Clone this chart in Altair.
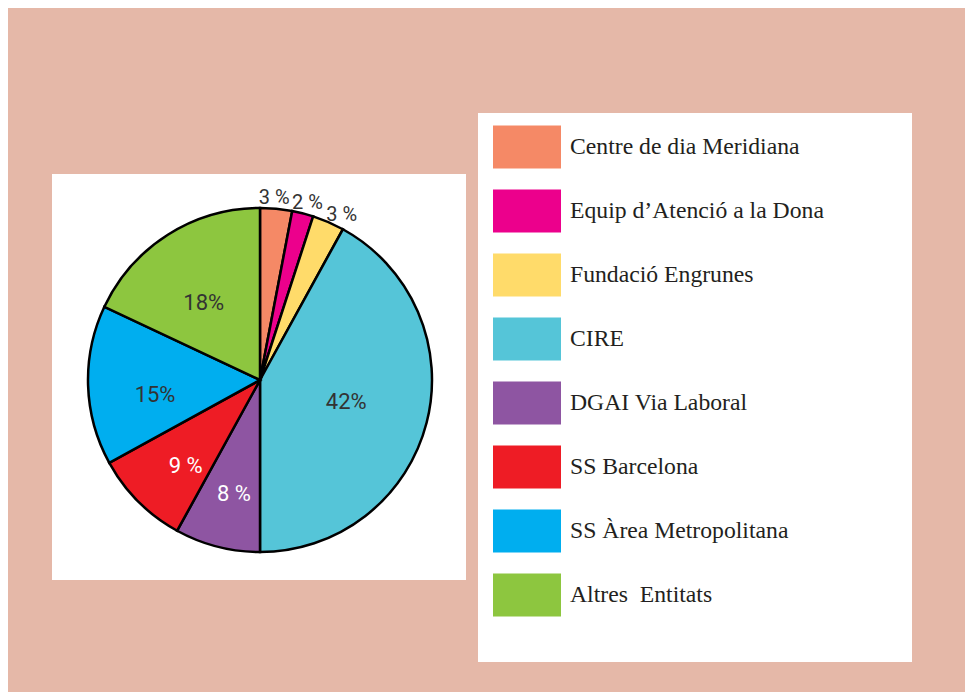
import altair as alt
import pandas as pd

categories = [
    "Centre de dia Meridiana",
    "Equip d\u2019Atenci\u00f3 a la Dona",
    "Fundaci\u00f3 Engrunes",
    "CIRE",
    "DGAI Via Laboral",
    "SS Barcelona",
    "SS \u00c0rea Metropolitana",
    "Altres\u00a0 Entitats",
]
values = [3, 2, 3, 42, 8, 9, 15, 18]
labels = ["3 %", "2 %", "3 %", "42%", "8 %", "9 %", "15%", "18%"]
colors = ["#f58966", "#ec008c", "#ffdb6a", "#55c5d8", "#8e55a2", "#ee1c25", "#00aeef", "#8dc63f"]

df = pd.DataFrame({
    "category": categories,
    "value": values,
    "label": labels,
    "idx": list(range(len(categories))),
})

W, H = 957, 684
CX, CY = 252, 372
R = 172

blank = alt.Data(values=[{}])

pie_panel = alt.Chart(blank).mark_rect(color="white").encode(
    x=alt.value(44), x2=alt.value(458), y=alt.value(166), y2=alt.value(572)
)
legend_panel = alt.Chart(blank).mark_rect(color="white").encode(
    x=alt.value(470), x2=alt.value(904), y=alt.value(105), y2=alt.value(654)
)

base = alt.Chart(df).encode(
    theta=alt.Theta("value:Q", stack=True),
    order=alt.Order("idx:Q"),
    x=alt.value(CX),
    y=alt.value(CY),
)

arcs = base.mark_arc(outerRadius=R, stroke="black", strokeWidth=2.5).encode(
    color=alt.Color(
        "category:N",
        scale=alt.Scale(domain=categories, range=colors),
        sort=categories,
        legend=alt.Legend(
            title=None,
            orient="none",
            legendX=485,
            legendY=105,
            symbolType="M-1,-0.632H1V0.632H-1Z",
            symbolSize=4624,
            symbolStrokeWidth=0,
            symbolOpacity=1,
            labelFont="Liberation Serif",
            labelFontSize=23.7,
            labelColor="#231f20",
            labelOffset=9,
            labelLimit=400,
            rowPadding=8,
        ),
    )
)

white_cats = ["DGAI Via Laboral", "SS Barcelona"]
label_color = alt.condition(
    alt.FieldOneOfPredicate(field="category", oneOf=white_cats),
    alt.value("white"),
    alt.value("#333333"),
)

inner_big = base.mark_text(radius=89, font="Roboto", fontSize=22).encode(
    detail="category:N",
    text=alt.condition("datum.value >= 30", "label:N", alt.value("")),
    color=label_color,
)

inner = base.mark_text(radius=105, dy=12, font="Roboto", fontSize=22).encode(
    detail="category:N",
    text=alt.condition("datum.value >= 5 && datum.value < 30", "label:N", alt.value("")),
    color=label_color,
)

outer_a = base.mark_text(radius=183, dx=-3, font="Roboto", fontSize=20, color="#333333").encode(
    detail="category:N",
    text=alt.condition("datum.value < 5 && datum.idx == 0", "label:N", alt.value("")),
)
outer_b = base.mark_text(radius=183, dx=2, font="Roboto", fontSize=20, color="#333333").encode(
    detail="category:N",
    text=alt.condition("datum.value < 5 && datum.idx == 1", "label:N", alt.value("")),
)
outer_c = base.mark_text(radius=183, dx=9, dy=3, font="Roboto", fontSize=20, color="#333333").encode(
    detail="category:N",
    text=alt.condition("datum.value < 5 && datum.idx == 2", "label:N", alt.value("")),
)

chart = alt.layer(
    pie_panel, legend_panel, arcs, inner_big, inner, outer_a, outer_b, outer_c
).properties(
    width=W, height=H, autosize=alt.AutoSizeParams(type="none"), padding=0
).configure(background="#e5b8a8").configure_view(stroke=None)

chart.save("out.html", embed_options={"renderer": "svg", "actions": False})
